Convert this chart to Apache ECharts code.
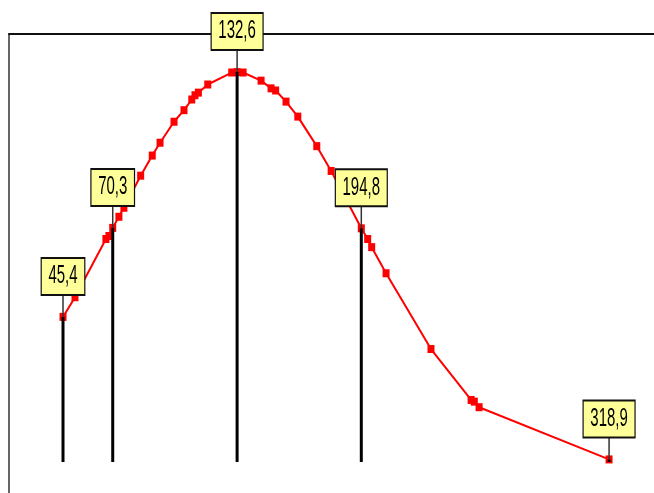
<!DOCTYPE html>
<html>
<head>
<meta charset="utf-8">
<script src="https://cdn.jsdelivr.net/npm/echarts@6/dist/echarts.min.js"></script>
<style>html,body{margin:0;padding:0;background:#fff;}#c{width:654px;height:493px;}</style>
</head>
<body>
<div id="c"></div>
<script>
// spectrum points (x = position, y = intensity)
var xValues = [45.4, 51.4, 66.9, 68.4, 70.3, 73.4, 75.9, 84.3, 90.1, 94.0, 101.0, 106.0, 109.9, 111.5, 113.2, 117.9, 129.9, 132.6, 135.6, 144.6, 149.6, 151.9, 157.1, 163.0, 172.5, 179.7, 194.8, 198.0, 200.0, 207.2, 229.7, 249.8, 251.4, 253.8, 318.9];
var yValues = [33.9, 38.5, 52.1, 52.8, 54.7, 57.3, 59.4, 66.9, 71.6, 74.6, 79.5, 82.2, 84.7, 85.7, 86.3, 88.2, 91.0, 91.1, 91.0, 89.1, 87.3, 86.8, 84.2, 80.7, 73.8, 68.0, 54.6, 52.1, 50.2, 44.1, 26.4, 14.5, 14.1, 12.8, 0.6];
// labelled peaks
var peakX = [45.4, 70.3, 132.6, 194.8, 318.9];
var peakY = [33.9, 54.7, 91.1, 54.6, 0.6];
var peakLabels = ['45,4', '70,3', '132,6', '194,8', '318,9'];

var chart = echarts.init(document.getElementById('c'));
var lineData = xValues.map(function (x, i) { return [x, yValues[i]]; });
var peakData = peakX.map(function (x, i) { return [x, peakY[i], peakLabels[i]]; });

chart.setOption({
  animation: false,
  grid: { left: 9, right: 0, top: 34, bottom: 0 },
  xAxis: {
    type: 'value', position: 'top', min: 18.35, max: 341.4,
    axisLine: { show: true, onZero: false, lineStyle: { color: '#111', width: 2 } },
    axisTick: { show: false }, axisLabel: { show: false }, splitLine: { show: false }
  },
  yAxis: {
    type: 'value', min: -7.243, max: 100,
    axisLine: { show: true, onZero: false, lineStyle: { color: '#333', width: 1.5 } },
    axisTick: { show: false }, axisLabel: { show: false }, splitLine: { show: false }
  },
  series: [
    {
      type: 'line', data: lineData, z: 2,
      symbol: 'rect', symbolSize: [7, 8],
      itemStyle: { color: '#ff0000' },
      lineStyle: { color: '#ff0000', width: 2 }
    },
    {
      type: 'custom', data: peakData, z: 5,
      renderItem: function (params, api) {
        var x = api.value(0), y = api.value(1);
        var pt = api.coord([x, y]);
        var base = api.coord([x, 0]);
        var label = peakLabels[params.dataIndex];
        var top = pt[1] - 23;
        return {
          type: 'group',
          children: [
            { type: 'line', shape: { x1: base[0], y1: base[1], x2: pt[0], y2: pt[1] }, style: { stroke: '#000', lineWidth: 3 } },
            { type: 'line', shape: { x1: pt[0], y1: pt[1], x2: pt[0], y2: top }, style: { stroke: '#333', lineWidth: 1.5 } },
            {
              type: 'text', x: pt[0], y: top, scaleX: 0.6, z2: 10,
              style: {
                x: 0, y: 0, text: label, align: 'center', verticalAlign: 'bottom',
                fontFamily: 'Liberation Sans, Arial, sans-serif',
                fontSize: 25, lineHeight: 27, fill: '#000',
                backgroundColor: '#ffff99', borderColor: '#111', borderWidth: 2,
                padding: [4, 11, 4, 11]
              }
            }
          ]
        };
      }
    }
  ]
});
</script>
</body>
</html>
